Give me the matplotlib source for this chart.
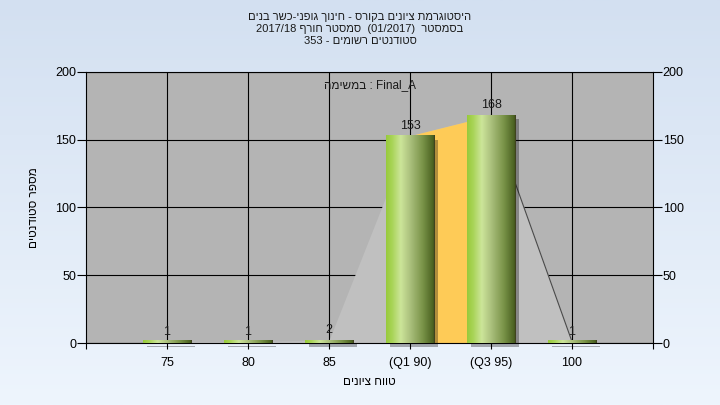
import re
import numpy as np
import matplotlib
matplotlib.use("Agg")
import matplotlib.pyplot as plt
from matplotlib.colors import LinearSegmentedColormap
from matplotlib.patches import Rectangle
from matplotlib.transforms import offset_copy

plt.rcParams['font.family'] = ['Liberation Sans', 'DejaVu Sans']

# ---------------- data ----------------
categories = ['75', '80', '85', '(Q1 90)', '(Q3 95)', '100']
counts = [1, 1, 2, 153, 168, 1]
q1_index = 3
q3_index = 4
yticks = [0, 50, 100, 150, 200]

title_lines = [
    "היסטוגרמת ציונים בקורס - חינוך גופני-כשר בנים",
    "בסמסטר  (01/2017)  סמסטר חורף 2017/18",
    "סטודנטים רשומים - 353",
]
task_label = "Final_A : במשימה"
x_label = "טווח ציונים"
y_label = "מספר סטודנטים"


def vis(s):
    """Simple visual (display) ordering for right-to-left Hebrew text."""
    r = s[::-1]
    r = re.sub(r'[A-Za-z0-9_/.]+(?: [A-Za-z0-9_/.]+)*', lambda m: m.group(0)[::-1], r)
    return r.translate(str.maketrans('()', ')('))


W, H = 720, 405
fig = plt.figure(figsize=(W / 100, H / 100), dpi=100)

# background gradient
bg = fig.add_axes([0, 0, 1, 1], zorder=-10)
grad = np.linspace(0, 1, 256)[:, None]
bg_cmap = LinearSegmentedColormap.from_list('bg', ['#D3E0F1', '#EEF5FD'])
bg.imshow(grad, aspect='auto', cmap=bg_cmap, extent=[0, 1, 0, 1])
bg.axis('off')

ax = fig.add_axes([86 / W, 1 - 343 / H, (653 - 86) / W, (343 - 72) / H])
ax.set_facecolor('#B4B4B4')
ax.set_axisbelow(True)

x = np.arange(len(categories))

# area behind bars
ax.fill_between(x, counts, 0, color='#C0C0C0', lw=0, zorder=1)
ax.fill_between(x[q1_index:q3_index + 1], counts[q1_index:q3_index + 1], 0,
                color='#FECB57', lw=0, zorder=1.5)
ax.plot(x[q3_index:q3_index + 2], counts[q3_index:q3_index + 2], color='#4A4A4A', lw=0.8, zorder=1.6)

# bars with cylinder gradient
bar_cmap = LinearSegmentedColormap.from_list('bar', [
    (0.0, '#98CA3C'), (0.12, '#A8D456'), (0.3, '#CCE59A'), (0.5, '#AABF7C'),
    (0.75, '#7A9449'), (0.97, '#4A6120'), (1.0, '#3C3A1E')])
bw = 0.6
hgrad = np.linspace(0, 1, 128)[None, :]
shadow_tr = offset_copy(ax.transData, fig=fig, x=4, y=-4, units='dots')
for xi, v in zip(x, counts):
    ax.add_patch(Rectangle((xi - bw / 2, 0), bw, v, transform=shadow_tr,
                           facecolor='black', alpha=0.3, lw=0, zorder=2.5, clip_on=False))
    hh = max(v, 1.6)
    ax.imshow(hgrad, extent=[xi - bw / 2, xi + bw / 2, 0, hh], aspect='auto',
              cmap=bar_cmap, zorder=3, interpolation='bilinear')
    ax.annotate(str(v), (xi, v), xytext=(0, 5), textcoords='offset points',
                ha='center', va='baseline', fontsize=9, color='#1A1A1A', zorder=5)

ax.set_xlim(-1, len(categories))
ax.set_ylim(0, 200)

ax.set_xticks(x)
ax.set_xticklabels(categories)
ax.set_xticks([-1, len(categories)], minor=True)
ax.set_yticks(yticks)
ax.tick_params(axis='x', which='both', direction='out', length=4, width=0.8,
               labelsize=9, pad=6, color='black')
ax.tick_params(axis='y', direction='out', length=6.5, width=0.8, labelsize=9, pad=0.5,
               left=True, right=True, labelleft=True, labelright=True)
ax.grid(True, which='major', color='black', lw=0.8)
for sp in ax.spines.values():
    sp.set_color('black')
    sp.set_linewidth(0.8)

ax.text(0.5, 0.952, vis(task_label), transform=ax.transAxes, ha='center', va='center',
        fontsize=8.5, color='#1A1A1A', zorder=6)

ax.set_xlabel(vis(x_label), fontsize=8.5, labelpad=5)
ax.set_ylabel(vis(y_label), fontsize=8.5, labelpad=11)

for i, line in enumerate(title_lines):
    fig.text(0.5, 1 - (17 + 12 * i) / H, vis(line), ha='center', va='center',
             fontsize=8, color='#1A1A1A')

fig.savefig('out.png', dpi=100)
